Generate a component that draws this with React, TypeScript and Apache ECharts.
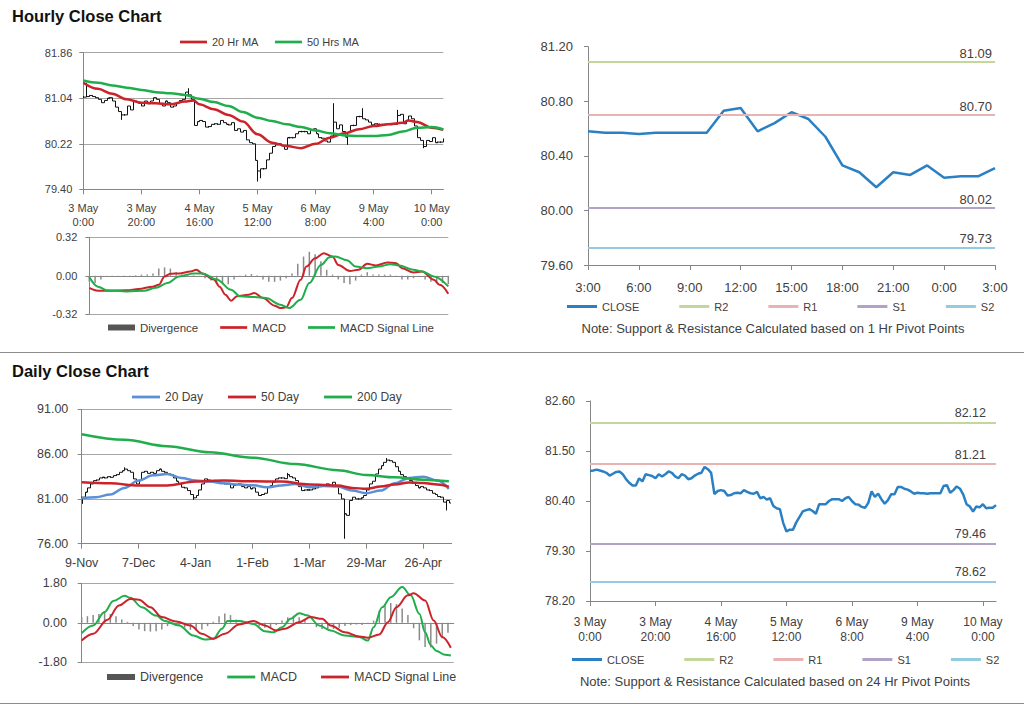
import React, { useEffect, useRef } from 'react';
import * as echarts from 'echarts';

const FONT = '"Liberation Sans", Arial, Helvetica, sans-serif';
const TXT = '#404040';
const AXIS = '#868686';
const GRID = '#a6a6a6';
const RED = '#cc2229';
const GREEN = '#1fae4b';
const BLUE_MA = '#5b8fd6';
const CLOSE_BLUE = '#2b80c3';
const DIV_GRAY = '#8a8a8a';
const PIVOT_COLORS = ['#c3d69b', '#e8b4b3', '#b3a2c7', '#93cddd'];
const LINE_ICON = 'path://M0,0L100,0L100,10L0,10Z';

// ---------------- Hourly data (3 May 0:00 - 10 May) ----------------
const hourTickLabels = ['3 May\n0:00', '3 May\n20:00', '4 May\n16:00', '5 May\n12:00', '6 May\n8:00', '9 May\n4:00', '10 May\n0:00'];
const hourlyClose = [
  81.06, 81.07, 81.09, 81.07, 81.05, 81.02, 80.96, 81.00, 81.04, 81.05,
  80.99, 80.88, 80.80, 80.74, 80.74, 80.90, 80.83, 80.99, 80.97, 80.95,
  80.90, 80.99, 80.94, 80.99, 81.05, 81.02, 80.94, 80.90, 80.99, 80.96,
  80.88, 80.90, 80.96, 81.00, 81.02, 81.15, 81.10, 81.02, 80.55, 80.62,
  80.64, 80.62, 80.52, 80.53, 80.57, 80.58, 80.57, 80.64, 80.60, 80.57,
  80.56, 80.60, 80.46, 80.49, 80.43, 80.46, 80.29, 80.24, 80.22, 79.92,
  79.73, 79.77, 79.77, 79.93, 80.05, 80.17, 80.20, 80.22, 80.18, 80.12,
  80.33, 80.33, 80.33, 80.40, 80.44, 80.44, 80.44, 80.40, 80.46, 80.49,
  80.40, 80.33, 80.32, 80.27, 80.25, 80.36, 80.61, 80.49, 80.56, 80.44,
  80.34, 80.42, 80.55, 80.55, 80.71, 80.71, 80.67, 80.65, 80.61, 80.56,
  80.58, 80.57, 80.57, 80.56, 80.57, 80.57, 80.57, 80.57, 80.73, 80.75,
  80.58, 80.64, 80.72, 80.67, 80.54, 80.33, 80.28, 80.17, 80.28, 80.26,
  80.33, 80.24, 80.25, 80.25, 80.31,
];
const hourlyHighSpikes = [[1, 81.32], [36, 81.22], [86, 80.95], [96, 80.86], [108, 80.83]];
const hourlyLowSpikes = [[13, 80.65], [60, 79.54], [61, 79.60], [91, 80.20], [117, 80.14]];
const ma20Hr = [[0, 81.32], [5, 81.21], [10, 81.12], [15, 81.02], [20, 80.96], [25, 80.95], [30, 80.93], [35, 80.98], [38, 81.0], [40, 80.93], [45, 80.84], [50, 80.74], [55, 80.62], [60, 80.39], [65, 80.24], [70, 80.18], [75, 80.14], [80, 80.22], [85, 80.33], [90, 80.41], [95, 80.48], [100, 80.54], [105, 80.57], [110, 80.6], [112, 80.64], [115, 80.61], [120, 80.51], [124, 80.47]];
const ma50Hr = [[0, 81.36], [5, 81.32], [10, 81.27], [15, 81.23], [20, 81.19], [25, 81.15], [30, 81.13], [35, 81.1], [40, 81.03], [45, 80.97], [50, 80.9], [55, 80.79], [60, 80.69], [65, 80.63], [70, 80.57], [75, 80.52], [80, 80.46], [85, 80.41], [90, 80.37], [95, 80.36], [100, 80.36], [105, 80.38], [110, 80.44], [115, 80.51], [120, 80.52], [124, 80.48]];
const macdH = [[0, -0.10], [3, -0.124], [6, -0.124], [13, -0.12], [17, -0.11], [22, -0.09], [24, -0.075], [26, -0.005], [28, 0.017], [31, 0.02], [35, 0.036], [37, 0.05], [39, 0.02], [43, -0.03], [45, -0.09], [47, -0.157], [49, -0.207], [51, -0.17], [55, -0.157], [57, -0.143], [60, -0.185], [64, -0.248], [66, -0.268], [68, -0.262], [70, -0.185], [73, -0.033], [75, 0.077], [78, 0.146], [81, 0.188], [84, 0.16], [86, 0.09], [90, 0.04], [93, 0.05], [96, 0.10], [99, 0.086], [103, 0.11], [106, 0.105], [108, 0.063], [112, 0.028], [115, 0.036], [119, -0.033], [121, -0.075], [124, -0.149]];
const signalH = [[0, -0.011], [3, -0.09], [6, -0.12], [13, -0.13], [19, -0.124], [23, -0.10], [27, -0.06], [31, -0.005], [36, 0.02], [39, 0.02], [44, -0.03], [49, -0.116], [52, -0.17], [57, -0.177], [61, -0.185], [66, -0.24], [69, -0.268], [73, -0.20], [76, -0.06], [80, 0.09], [83, 0.155], [85, 0.16], [89, 0.13], [92, 0.077], [96, 0.063], [100, 0.077], [104, 0.097], [107, 0.086], [112, 0.05], [115, 0.036], [119, -0.005], [124, -0.088]];
const divergenceH = [[0, -0.05], [2, -0.06], [4, -0.03], [6, -0.01], [8, -0.01], [10, -0.005], [12, -0.005], [14, -0.005], [16, 0.005], [18, 0.01], [20, 0.01], [22, 0.02], [24, 0.06], [26, 0.07], [28, 0.06], [30, 0.03], [32, 0.01], [34, 0.01], [36, 0.005], [38, -0.01], [40, -0.02], [42, -0.04], [44, -0.05], [46, -0.06], [48, -0.07], [50, -0.03], [52, -0.01], [54, 0.01], [56, 0.015], [58, 0.005], [60, -0.03], [62, -0.05], [64, -0.05], [66, -0.04], [68, -0.02], [70, 0.02], [72, 0.10], [74, 0.16], [76, 0.20], [78, 0.18], [80, 0.12], [82, 0.05], [84, 0.01], [86, -0.03], [88, -0.06], [90, -0.07], [92, -0.04], [94, 0.01], [96, 0.03], [98, 0.01], [100, 0.01], [102, 0.01], [104, 0.01], [106, -0.01], [108, -0.03], [110, -0.03], [112, -0.02], [114, -0.01], [116, -0.03], [118, -0.05], [120, -0.06], [122, -0.06], [124, -0.07]];

// ---------------- Pivot charts ----------------
const pivotHourLabels = ['3:00', '6:00', '9:00', '12:00', '15:00', '18:00', '21:00', '0:00', '3:00'];
const pivotCloseH = hourlyClose.slice(-25);
const pivotNames = ['R2', 'R1', 'S1', 'S2'];
const pivotLevelsH = [81.09, 80.70, 80.02, 79.73];
const pivotLevelsD = [82.12, 81.21, 79.46, 78.62];

// ---------------- Daily data (9 Nov - 10 May) ----------------
const dayTickLabels = ['9-Nov', '7-Dec', '4-Jan', '1-Feb', '1-Mar', '29-Mar', '26-Apr'];
const dailyClose = [
  81.19, 81.75, 82.23, 82.67, 83.04, 83.11, 83.34, 83.41, 83.34, 83.48,
  83.41, 83.60, 83.71, 83.97, 84.15, 84.33, 84.15, 83.97, 83.23, 82.67,
  83.04, 83.97, 84.08, 83.85, 83.97, 83.85, 84.15, 84.33, 84.08, 83.97,
  83.78, 83.71, 83.34, 82.97, 82.67, 82.30, 82.23, 81.93, 81.49, 81.12,
  81.38, 82.00, 82.67, 83.23, 83.11, 82.97, 83.04, 83.04, 82.86, 82.74,
  82.67, 82.74, 82.23, 82.49, 82.60, 82.67, 82.37, 82.23, 82.37, 82.12,
  82.23, 81.75, 81.38, 81.49, 81.63, 82.37, 82.49, 82.86, 83.23, 83.34,
  83.34, 83.26, 83.71, 83.48, 83.34, 83.04, 82.37, 81.93, 82.00, 82.00,
  82.00, 82.12, 82.23, 82.37, 82.49, 82.60, 82.67, 82.49, 82.86, 82.49,
  81.56, 81.00, 79.34, 79.16, 80.82, 81.19, 81.00, 81.00, 81.12, 81.38,
  82.00, 82.67, 82.97, 83.78, 84.33, 84.71, 85.08, 85.33, 85.26, 85.08,
  84.59, 84.08, 83.71, 83.48, 83.34, 83.04, 82.74, 82.49, 82.23, 82.37,
  82.23, 82.00, 81.93, 81.63, 81.49, 81.26, 81.19, 80.64, 80.82, 80.54,
];
const dailyHighSpikes = [[15, 84.52], [72, 83.9], [107, 85.56]];
const dailyLowSpikes = [[0, 80.45], [39, 80.9], [92, 76.55], [128, 79.71]];
const ma20Day = [[0, 81.08], [5, 81.19], [10, 81.49], [15, 82.23], [20, 83.04], [25, 83.63], [30, 83.78], [35, 83.34], [40, 83.04], [45, 82.93], [50, 82.74], [55, 82.6], [60, 82.52], [65, 82.3], [70, 82.49], [75, 82.67], [80, 82.3], [85, 82.45], [90, 82.37], [95, 81.93], [100, 81.63], [105, 81.93], [110, 82.74], [115, 83.34], [120, 83.48], [125, 83.04], [129, 82.12]];
const ma50Day = [[0, 82.86], [10, 82.74], [20, 82.49], [30, 82.49], [40, 82.93], [50, 83.04], [60, 82.97], [70, 82.93], [80, 82.6], [90, 82.49], [95, 82.23], [100, 82.12], [105, 82.37], [110, 82.6], [115, 82.82], [120, 82.78], [125, 82.6], [129, 82.37]];
const ma200Day = [[0, 88.22], [15, 87.6], [30, 86.89], [45, 86.2], [60, 85.6], [75, 84.89], [90, 84.2], [100, 83.67], [110, 83.41], [120, 83.15], [129, 82.97]];
const macdD = [[0, -0.47], [4, -0.12], [8, 0.49], [11, 0.99], [15, 1.23], [17, 1.14], [21, 0.71], [26, 0.33], [29, 0.08], [34, -0.12], [39, -0.58], [43, -0.76], [46, -0.73], [49, -0.27], [51, 0.08], [55, 0.08], [60, -0.05], [64, -0.38], [67, -0.43], [70, -0.2], [73, 0.18], [76, 0.44], [79, 0.33], [83, -0.12], [87, -0.35], [92, -0.58], [97, -0.65], [100, -0.81], [102, -0.2], [105, 0.71], [108, 1.17], [112, 1.63], [115, 1.25], [118, 0.41], [120, -0.43], [122, -1.03], [124, -1.29], [127, -1.46], [129, -1.49]];
const signalD = [[0, -0.81], [4, -0.5], [9, 0.14], [13, 0.79], [17, 1.09], [20, 1.05], [24, 0.71], [28, 0.26], [33, 0.06], [38, -0.12], [42, -0.5], [46, -0.73], [50, -0.5], [55, -0.08], [60, 0.08], [64, -0.12], [68, -0.35], [71, -0.27], [76, 0.03], [80, 0.26], [84, 0.18], [87, -0.12], [92, -0.43], [97, -0.62], [100, -0.68], [104, -0.53], [107, 0.03], [110, 0.71], [114, 1.25], [116, 1.35], [120, 1.02], [123, 0.11], [126, -0.65], [129, -1.14]];
const divergenceD = [[0, 0.25], [2, 0.3], [4, 0.35], [6, 0.4], [8, 0.45], [10, 0.4], [12, 0.3], [14, 0.15], [16, 0.05], [18, -0.15], [20, -0.3], [22, -0.38], [24, -0.4], [26, -0.38], [28, -0.3], [30, -0.15], [32, -0.05], [34, -0.12], [36, -0.22], [38, -0.32], [40, -0.35], [42, -0.3], [44, -0.15], [46, 0.05], [48, 0.3], [50, 0.42], [52, 0.35], [54, 0.15], [56, 0.05], [58, 0.02], [60, -0.05], [62, -0.15], [64, -0.22], [66, -0.2], [68, -0.1], [70, 0.1], [72, 0.25], [74, 0.32], [76, 0.25], [78, 0.12], [80, -0.05], [82, -0.2], [84, -0.28], [86, -0.3], [88, -0.28], [90, -0.22], [92, -0.15], [94, -0.1], [96, -0.08], [98, -0.1], [100, -0.05], [102, 0.1], [104, 0.55], [106, 0.8], [108, 0.9], [110, 0.85], [112, 0.65], [114, 0.35], [116, -0.25], [118, -0.8], [120, -1.1], [122, -1.12], [124, -0.95], [126, -0.7], [128, -0.45]];

// ---------------- helpers ----------------
function buildBars(close: number[], highs: number[][], lows: number[][]) {
  const hi = new Map(highs.map(([i, v]) => [i, v] as [number, number]));
  const lo = new Map(lows.map(([i, v]) => [i, v] as [number, number]));
  return close.map((c, i) => {
    const o = i > 0 ? close[i - 1] : c;
    let h = Math.max(o, c);
    let l = Math.min(o, c);
    if (hi.has(i)) h = Math.max(h, hi.get(i) as number);
    if (lo.has(i)) l = Math.min(l, lo.get(i) as number);
    return [i, o, c, l, h];
  });
}

const renderBar = (_params: any, api: any) => {
  const i = api.value(0);
  const o = api.coord([i, api.value(1)]);
  const c = api.coord([i, api.value(2)]);
  const l = api.coord([i, api.value(3)]);
  const h = api.coord([i, api.value(4)]);
  const x = Math.round(o[0]) + 0.5;
  let y1 = h[1];
  let y2 = l[1];
  if (y2 - y1 < 1.5) {
    const m = (y1 + y2) / 2;
    y1 = m - 0.75;
    y2 = m + 0.75;
  }
  const st = { stroke: '#111', lineWidth: 1 };
  return {
    type: 'group',
    children: [
      { type: 'line', shape: { x1: x, y1, x2: x, y2 }, style: st },
      { type: 'line', shape: { x1: x - 1.5, y1: o[1], x2: x, y2: o[1] }, style: st },
      { type: 'line', shape: { x1: x, y1: c[1], x2: x + 1.5, y2: c[1] }, style: st },
    ],
  };
};

const lbl = (size: number, margin: number) => ({ fontFamily: FONT, fontSize: size, color: TXT, margin });

function valueY(gridIndex: number, min: number, max: number, interval: number, size: number, margin: number, split = true) {
  return {
    type: 'value', gridIndex, min, max, interval,
    axisLine: { show: true, lineStyle: { color: AXIS, width: 1 } },
    axisTick: { show: true, length: 4, lineStyle: { color: AXIS } },
    splitLine: { show: split, lineStyle: { color: GRID, width: 1 } },
    axisLabel: { ...lbl(size, margin), formatter: (v: number) => v.toFixed(2) },
  };
}

function catX(gridIndex: number, cats: string[], every: number, labels: string[], size: number, margin: number, lineHeight: number, showLabels = true) {
  const pick = (i: number) => i % every === 0;
  return {
    type: 'category', gridIndex, data: cats, boundaryGap: false,
    axisLine: { show: true, lineStyle: { color: AXIS, width: 1 } },
    axisTick: { show: showLabels, interval: pick, length: 5, lineStyle: { color: AXIS } },
    splitLine: { show: false },
    axisLabel: {
      show: showLabels, interval: pick, ...lbl(size, margin), lineHeight,
      formatter: (_v: string, i: number) => (pick(i) ? labels[i / every] ?? '' : ''),
    },
  };
}

const lineSeries = (name: string, data: number[][], color: string, width: number, xAxisIndex: number, yAxisIndex: number) => ({
  type: 'line', name, data, color, xAxisIndex, yAxisIndex, showSymbol: false, symbol: 'none',
  smooth: 0.35, smoothMonotone: 'x', lineStyle: { color, width }, z: 3,
});

const legendCfg = (left: number, top: number, size: number, gap: number, itemWidth: number, data: any[]) => ({
  left, top, padding: 0, itemGap: gap, itemWidth, itemHeight: 6, selectedMode: false,
  icon: LINE_ICON, symbolKeepAspect: true,
  textStyle: { fontFamily: FONT, fontSize: size, color: TXT },
  data,
});

// ---------------- options ----------------
function hourlyLeftOption() {
  const cats = hourlyClose.map((_, i) => String(i));
  return {
    animation: false,
    graphic: [{ type: 'text', x: 12, y: 16, style: { text: 'Hourly Close Chart', font: `bold 16.5px ${FONT}`, fill: '#111', verticalAlign: 'middle' } }],
    grid: [
      { left: 83.3, top: 52.7, width: 360, height: 136.6 },
      { left: 89.3, top: 237.3, width: 359, height: 77 },
    ],
    xAxis: [
      catX(0, cats, 20, hourTickLabels, 11, 12, 14),
      catX(1, cats, 20, hourTickLabels, 11, 12, 14, false),
    ],
    yAxis: [
      valueY(0, 79.4, 81.86, 0.82, 11, 11),
      valueY(1, -0.32, 0.32, 0.32, 11, 12),
    ],
    legend: [
      legendCfg(180, 36.5, 11, 16.5, 27, ['20 Hr MA', '50 Hrs MA']),
      legendCfg(108, 321.5, 11.5, 22, 27, [{ name: 'Divergence', icon: 'rect', itemStyle: { color: '#555' } }, 'MACD', 'MACD Signal Line']),
    ],
    series: [
      { type: 'custom', name: 'Close', renderItem: renderBar, data: buildBars(hourlyClose, hourlyHighSpikes, hourlyLowSpikes), encode: { x: 0, y: [1, 2, 3, 4] }, xAxisIndex: 0, yAxisIndex: 0, z: 2, clip: true },
      lineSeries('20 Hr MA', ma20Hr, RED, 2.5, 0, 0),
      lineSeries('50 Hrs MA', ma50Hr, GREEN, 2.5, 0, 0),
      { type: 'bar', name: 'Divergence', data: divergenceH, color: DIV_GRAY, barWidth: 1.5, xAxisIndex: 1, yAxisIndex: 1, z: 2 },
      lineSeries('MACD', macdH, RED, 2, 1, 1),
      lineSeries('MACD Signal Line', signalH, GREEN, 2, 1, 1),
    ],
  };
}

function dailyLeftOption() {
  const cats = Array.from({ length: dailyClose.length + 1 }, (_, i) => String(i));
  return {
    animation: false,
    graphic: [{ type: 'text', x: 12, y: 18.5, style: { text: 'Daily Close Chart', font: `bold 16.5px ${FONT}`, fill: '#111', verticalAlign: 'middle' } }],
    grid: [
      { left: 81.7, top: 57.3, width: 370, height: 134.4 },
      { left: 81.7, top: 231.3, width: 372, height: 79 },
    ],
    xAxis: [
      catX(0, cats, 20, dayTickLabels, 12.5, 12, 14),
      catX(1, cats, 20, dayTickLabels, 12.5, 12, 14, false),
    ],
    yAxis: [
      valueY(0, 76, 91, 5, 12.5, 13.4),
      valueY(1, -1.8, 1.8, 1.8, 12.5, 14.7),
    ],
    legend: [
      legendCfg(132, 39, 12, 25, 28, ['20 Day', '50 Day', '200 Day']),
      legendCfg(107, 318.5, 12.5, 24, 28, [{ name: 'Divergence', icon: 'rect', itemStyle: { color: '#555' } }, 'MACD', 'MACD Signal Line']),
    ],
    series: [
      { type: 'custom', name: 'Close', renderItem: renderBar, data: buildBars(dailyClose, dailyHighSpikes, dailyLowSpikes), encode: { x: 0, y: [1, 2, 3, 4] }, xAxisIndex: 0, yAxisIndex: 0, z: 2, clip: true },
      lineSeries('20 Day', ma20Day, BLUE_MA, 2.5, 0, 0),
      lineSeries('50 Day', ma50Day, RED, 2.5, 0, 0),
      lineSeries('200 Day', ma200Day, GREEN, 2.5, 0, 0),
      { type: 'bar', name: 'Divergence', data: divergenceD, color: DIV_GRAY, barWidth: 1.5, xAxisIndex: 1, yAxisIndex: 1, z: 2 },
      lineSeries('MACD', macdD, GREEN, 2, 1, 1),
      lineSeries('MACD Signal Line', signalD, RED, 2, 1, 1),
    ],
  };
}

interface PivotCfg {
  close: number[]; every: number; tickLabels: string[]; levels: number[]; note: string;
  grid: { left: number; top: number; width: number; height: number };
  min: number; max: number; interval: number; font: number; pivotFont: number;
  xMargin: number; lineHeight: number; legendLeft: number; legendTop: number;
  noteX: number; noteY: number; labelDist: number[];
}

function pivotOption(p: PivotCfg) {
  const cats = p.close.map((_, i) => String(i));
  return {
    animation: false,
    grid: [p.grid],
    xAxis: [catX(0, cats, p.every, p.tickLabels, p.font, p.xMargin, p.lineHeight)],
    yAxis: [valueY(0, p.min, p.max, p.interval, p.font, 15, false)],
    legend: [legendCfg(p.legendLeft, p.legendTop, 11, 40, 30, ['CLOSE', ...pivotNames])],
    graphic: [{ type: 'text', x: p.noteX, y: p.noteY, style: { text: p.note, font: `13px ${FONT}`, fill: TXT, align: 'center', verticalAlign: 'middle' } }],
    series: [
      { type: 'line', name: 'CLOSE', data: p.close, color: CLOSE_BLUE, symbol: 'none', showSymbol: false, lineStyle: { color: CLOSE_BLUE, width: 2.5 }, z: 4 },
      ...pivotNames.map((name, k) => ({
        type: 'line', name, data: [], color: PIVOT_COLORS[k], symbol: 'none',
        lineStyle: { color: PIVOT_COLORS[k], width: 2 },
        markLine: {
          silent: true, symbol: ['none', 'none'], animation: false,
          lineStyle: { color: PIVOT_COLORS[k], width: 2, type: 'solid' },
          label: { show: true, position: 'insideEndTop', distance: p.labelDist, formatter: p.levels[k].toFixed(2), fontFamily: FONT, fontSize: p.pivotFont, color: TXT },
          emphasis: { disabled: true },
          data: [{ yAxis: p.levels[k] }],
        },
      })),
    ],
  };
}

function Chart({ option, style }: { option: any; style: React.CSSProperties }) {
  const ref = useRef<HTMLDivElement>(null);
  useEffect(() => {
    const chart = echarts.init(ref.current as HTMLDivElement, undefined, { renderer: 'svg' });
    chart.setOption(option);
    return () => chart.dispose();
  }, []);
  return <div ref={ref} style={{ position: 'absolute', ...style }} />;
}

export default function App() {
  const topPivot = pivotOption({
    close: pivotCloseH, every: 3, tickLabels: pivotHourLabels, levels: pivotLevelsH,
    note: 'Note: Support & Resistance Calculated based on 1 Hr Pivot Points',
    grid: { left: 76, top: 46.7, width: 407, height: 218.3 },
    min: 79.6, max: 81.2, interval: 0.4, font: 13, pivotFont: 13, xMargin: 15, lineHeight: 14,
    legendLeft: 55, legendTop: 301, noteX: 261, noteY: 328, labelDist: [3, 2],
  });
  const bottomPivot = pivotOption({
    close: hourlyClose, every: 20, tickLabels: hourTickLabels, levels: pivotLevelsD,
    note: 'Note: Support & Resistance Calculated based on 24 Hr Pivot Points',
    grid: { left: 78, top: 49, width: 406, height: 200 },
    min: 78.2, max: 82.6, interval: 1.1, font: 12, pivotFont: 12.5, xMargin: 14, lineHeight: 14.5,
    legendLeft: 60, legendTop: 302, noteX: 263, noteY: 329, labelDist: [10, 3],
  });
  return (
    <div style={{ position: 'absolute', left: 0, top: 0, width: 1024, height: 706, background: '#fff', overflow: 'hidden' }}>
      <Chart option={hourlyLeftOption()} style={{ left: 0, top: 0, width: 512, height: 352 }} />
      <Chart option={topPivot} style={{ left: 512, top: 0, width: 512, height: 352 }} />
      <Chart option={dailyLeftOption()} style={{ left: 0, top: 352, width: 512, height: 354 }} />
      <Chart option={bottomPivot} style={{ left: 512, top: 352, width: 512, height: 354 }} />
      <div style={{ position: 'absolute', left: 0, top: 352, width: 1024, height: 1, background: '#8c8c8c' }} />
      <div style={{ position: 'absolute', left: 0, top: 703, width: 1024, height: 1, background: '#8c8c8c' }} />
    </div>
  );
}
